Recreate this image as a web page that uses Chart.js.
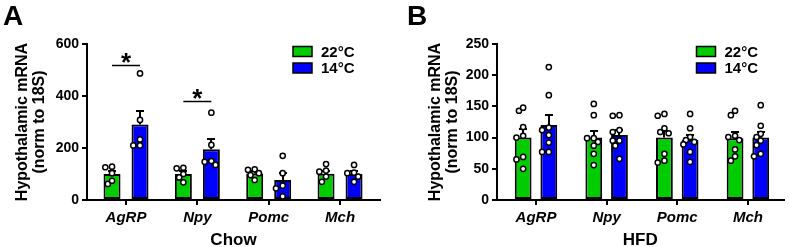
<!DOCTYPE html>
<html><head><meta charset="utf-8">
<script src="https://cdn.jsdelivr.net/npm/chart.js@4/dist/chart.umd.min.js"></script>
<style>
html,body{margin:0;padding:0;background:#fff;width:789px;height:247px;overflow:hidden}
canvas{position:absolute;top:0}
#cA{left:0}
#cB{left:395px}
</style></head><body>
<canvas id="cA" width="395" height="247"></canvas>
<canvas id="cB" width="394" height="247"></canvas>
<script>
// ---------- data ----------
const genes = ['AgRP', 'Npy', 'Pomc', 'Mch'];
const seriesNames = ['22°C', '14°C'];
const yTitle = ['Hypothalamic mRNA', '(norm to 18S)'];

const chowMean22 = [100, 100, 102, 101];
const chowMean14 = [290, 195, 77, 100];
const chowSem22 = [13, 11, 8, 11];
const chowSem14 = [52, 38, 27, 11];
const chowPts22 = [[126, 128, 103, 62, 74], [124, 122, 100, 87, 68], [118, 116, 96, 103, 77], [138, 109, 113, 90, 70]];
const chowPts14 = [[487, 308, 233, 210, 210], [336, 212, 150, 135, 147], [170, 103, 55, 45, 14], [135, 103, 105, 90, 70]];
const chowYTicks = [0, 200, 400, 600];
const chowSigCats = [0, 1];
const chowSigLevels = [520, 380];

const hfdMean22 = [100, 100, 100, 99];
const hfdMean14 = [120, 104, 96, 100];
const hfdSem22 = [13, 11, 11, 10];
const hfdSem14 = [17, 8, 8, 9];
const hfdPts22 = [[143, 148, 117, 100, 103, 69, 65, 50], [154, 136, 99, 99, 93, 87, 74, 56], [135, 138, 109, 115, 107, 74, 60, 63], [143, 136, 103, 101, 96, 81, 70, 63]];
const hfdPts14 = [[213, 168, 116, 112, 104, 92, 77, 77], [136, 135, 109, 112, 95, 95, 87, 66], [138, 115, 101, 96, 93, 89, 77, 61], [152, 119, 106, 101, 95, 88, 74, 70]];
const hfdYTicks = [0, 50, 100, 150, 200, 250];
const hfdSigCats = [];
const hfdSigLevels = [];

// ---------- styling ----------
const F = '"Liberation Sans", Arial, Helvetica, sans-serif';
const COLORS = ['#00cc00', '#0000ff'];

const errPlugin = {
  id: 'errbars',
  afterDatasetDraw(chart, args) {
    const ds = chart.data.datasets[args.index];
    if (!ds.sem) return;
    const ctx = chart.ctx, ys = chart.scales.y;
    ctx.save();
    ctx.strokeStyle = '#000';
    ctx.lineWidth = 2;
    args.meta.data.forEach((el, i) => {
      const top = Math.round(ys.getPixelForValue(ds.data[i].y + ds.sem[i]));
      const x = Math.round(el.x);
      ctx.beginPath();
      ctx.moveTo(x, el.y);
      ctx.lineTo(x, top);
      ctx.moveTo(x - 4, top);
      ctx.lineTo(x + 4, top);
      ctx.stroke();
    });
    ctx.restore();
  }
};

const decoPlugin = {
  id: 'deco',
  afterDraw(chart) {
    const o = chart.options.plugins.deco;
    const ctx = chart.ctx, ca = chart.chartArea, ys = chart.scales.y;
    ctx.save();
    ctx.fillStyle = '#000';
    ctx.font = 'bold 28px ' + F;
    ctx.textAlign = 'left';
    ctx.textBaseline = 'alphabetic';
    ctx.fillText(o.letter, o.letterX, 25);
    ctx.font = 'bold 15px ' + F;
    ctx.textBaseline = 'middle';
    seriesNames.forEach((n, i) => {
      const cy = 51.5 + i * 16.5;
      const bx = ca.right - 87;
      ctx.fillStyle = COLORS[i];
      ctx.fillRect(bx, cy - 5, 19, 10);
      ctx.strokeStyle = '#000';
      ctx.lineWidth = 1.5;
      ctx.strokeRect(bx, cy - 5, 19, 10);
      ctx.fillStyle = '#000';
      ctx.fillText(n, ca.right - 59, cy + 1);
    });
    const m0 = chart.getDatasetMeta(0), m1 = chart.getDatasetMeta(1);
    o.sigCats.forEach((c, k) => {
      const y = Math.round(ys.getPixelForValue(o.sigLevels[k])) + 0.5;
      const x1 = m0.data[c].x, x2 = m1.data[c].x;
      ctx.strokeStyle = '#000';
      ctx.lineWidth = 1.5;
      ctx.beginPath();
      ctx.moveTo(x1, y);
      ctx.lineTo(x2, y);
      ctx.stroke();
      ctx.font = 'bold 26px ' + F;
      ctx.textAlign = 'center';
      ctx.textBaseline = 'alphabetic';
      const mt = ctx.measureText('*');
      const asc = mt.actualBoundingBoxAscent, desc = mt.actualBoundingBoxDescent;
      const cyStar = y - 7.5;
      ctx.fillText('*', (x1 + x2) / 2, cyStar + (asc - desc) / 2);
    });
    ctx.restore();
  }
};

function swarm(chart) {
  const xs = chart.scales.x, ys = chart.scales.y;
  const STEP = 4.2, MIN = 5.2;
  chart.data.datasets.forEach(ds => {
    if (ds.type !== 'scatter') return;
    const barMeta = chart.getDatasetMeta(ds.barIndex);
    const groups = {};
    ds.data.forEach(p => { (groups[p.cat] = groups[p.cat] || []).push(p); });
    Object.values(groups).forEach(g => {
      const cx = barMeta.data[g[0].cat].x;
      const placed = [];
      g.slice().sort((a, b) => b.y - a.y).forEach(p => {
        const py = ys.getPixelForValue(p.y);
        let best = 0, bestD = -1;
        for (const k of [0, -1, 1, -1.6, 1.6]) {
          const ox = k * STEP;
          const d = placed.length ? Math.min(...placed.map(q => Math.hypot(q.ox - ox, q.py - py))) : 1e9;
          if (d >= MIN) { best = ox; bestD = d; break; }
          if (d > bestD) { bestD = d; best = ox; }
        }
        placed.push({ ox: best, py });
        p.x = xs.getValueForPixel(cx + best);
      });
    });
  });
  chart.update('none');
}

function buildPanel(id, c) {
  const half = c.catPct / 4;
  const barData = arr => arr.map((v, i) => ({ x: i, y: v }));
  const ptData = (groups, side) => {
    const out = [];
    groups.forEach((g, i) => g.forEach(v => out.push({ x: i + side * half, y: v, cat: i })));
    return out;
  };
  const yMax = c.yTicks[c.yTicks.length - 1];
  const axisGrid = { drawOnChartArea: false, drawTicks: true, tickLength: 5, color: '#000', lineWidth: 2, offset: false };
  const axisBorder = { display: true, color: '#000', width: 2 };
  const pt = { pointRadius: 2.6, pointBackgroundColor: '#fff', pointBorderColor: '#000', pointBorderWidth: 1.5, showLine: false, clip: false, order: 1 };
  const chart = new Chart(document.getElementById(id), {
    type: 'bar',
    data: {
      datasets: [
        { type: 'bar', label: seriesNames[0], data: barData(c.mean22), sem: c.sem22, backgroundColor: COLORS[0], borderColor: '#000', borderWidth: 2, borderSkipped: false, categoryPercentage: c.catPct, barPercentage: c.barPct, order: 2 },
        { type: 'bar', label: seriesNames[1], data: barData(c.mean14), sem: c.sem14, backgroundColor: COLORS[1], borderColor: '#000', borderWidth: 2, borderSkipped: false, categoryPercentage: c.catPct, barPercentage: c.barPct, order: 2 },
        Object.assign({ type: 'scatter', data: ptData(c.pts22, -1), barIndex: 0 }, pt),
        Object.assign({ type: 'scatter', data: ptData(c.pts14, 1), barIndex: 1 }, pt)
      ]
    },
    options: {
      responsive: false,
      animation: false,
      devicePixelRatio: 1,
      events: [],
      layout: { padding: { left: 0, top: 44, right: c.padRight, bottom: 0 } },
      plugins: {
        legend: { display: false },
        tooltip: { enabled: false },
        deco: { letter: c.letter, letterX: c.letterX, sigCats: c.sigCats, sigLevels: c.sigLevels }
      },
      scales: {
        x: {
          type: 'linear', min: c.xMin, max: c.xMax, offset: false,
          afterBuildTicks: s => { s.ticks = genes.map((_, i) => ({ value: i })); },
          afterFit: s => { s.height = 47; },
          ticks: { callback: v => genes[v] ?? '', color: '#000', padding: 4, maxRotation: 0, autoSkip: false,
                   font: { family: F, size: 15, weight: 'bold', style: 'italic' } },
          grid: axisGrid, border: axisBorder,
          title: { display: true, text: c.xTitle, color: '#000', padding: { top: 0, bottom: -2 },
                   font: { family: F, size: 17, weight: 'bold', lineHeight: 1 } }
        },
        y: {
          min: 0, max: yMax,
          afterBuildTicks: s => { s.ticks = c.yTicks.map(v => ({ value: v })); },
          afterFit: s => { s.width = c.yAxisW; },
          ticks: { color: '#000', padding: 3, font: { family: F, size: 14, weight: 'bold' } },
          grid: axisGrid, border: axisBorder,
          title: { display: true, text: yTitle, color: '#000', padding: { top: c.yTitlePad, bottom: 0 },
                   font: { family: F, size: 16, weight: 'bold', lineHeight: 1.06 } }
        }
      }
    },
    plugins: [errPlugin, decoPlugin]
  });
  swarm(chart);
  return chart;
}

buildPanel('cA', {
  letter: 'A', letterX: 3, xTitle: 'Chow',
  mean22: chowMean22, mean14: chowMean14, sem22: chowSem22, sem14: chowSem14,
  pts22: chowPts22, pts14: chowPts14, yTicks: chowYTicks,
  sigCats: chowSigCats, sigLevels: chowSigLevels,
  catPct: 0.785, barPct: 0.607, xMin: -0.547, xMax: 3.56,
  yAxisW: 87, padRight: 15, yTitlePad: 14.5
});
buildPanel('cB', {
  letter: 'B', letterX: 12, xTitle: 'HFD',
  mean22: hfdMean22, mean14: hfdMean14, sem22: hfdSem22, sem14: hfdSem14,
  pts22: hfdPts22, pts14: hfdPts14, yTicks: hfdYTicks,
  sigCats: hfdSigCats, sigLevels: hfdSigLevels,
  catPct: 0.727, barPct: 0.654, xMin: -0.552, xMax: 3.504,
  yAxisW: 102, padRight: 2, yTitlePad: 32.5
});
</script>
</body></html>
